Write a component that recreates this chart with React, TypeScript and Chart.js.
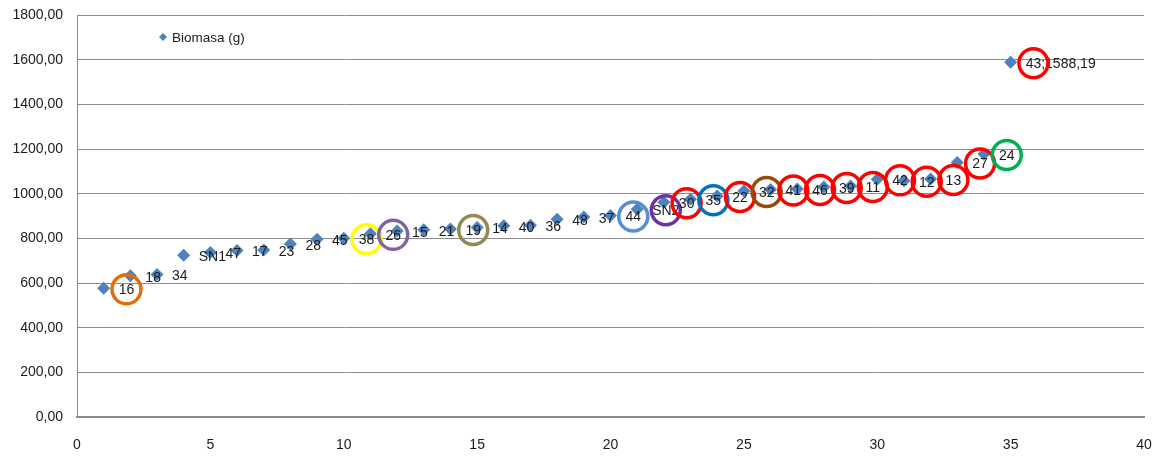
import React, { useEffect, useRef } from 'react';
import { Chart, registerables } from 'chart.js';

Chart.register(...registerables);

// Genotypes ranked by biomass (x = rank, y = biomass in grams)
const rank = [1, 2, 3, 4, 5, 6, 7, 8, 9, 10, 11, 12, 13, 14, 15, 16, 17, 18, 19, 20, 21, 22, 23, 24, 25, 26, 27, 28, 29, 30, 31, 32, 33, 34, 35];
const genotypes = ['16', '18', '34', 'SN1', '47', '17', '23', '28', '45', '38', '26', '15', '21', '19', '14', '40', '36', '48', '37', '44', 'SN2', '30', '35', '22', '32', '41', '46', '39', '11', '42', '12', '13', '27', '24', '43'];
const biomass = [576, 632, 638, 724, 737, 745, 748, 775, 796, 800, 820, 833, 838, 842, 848, 856, 859, 886, 896, 902, 930, 962, 975, 990, 1012, 1019, 1021, 1030, 1034, 1064, 1058, 1066, 1140, 1178, 1588.19];
const seriesName = 'Biomasa (g)';
// Genotypes whose label also carries the value
const valueLabelled = ['43'];

const FONT = '"Liberation Sans", Arial, sans-serif';
const MARKER = '#4F81BD';
const TEXT = '#1a1a1a';
const GRID = '#8c8c8c';

// Highlight rings drawn around selected genotype labels
const ringColors: Record<string, string> = {
  '16': '#E46C0A',
  '38': '#FFFF00',
  '26': '#8064A2',
  '19': '#948A54',
  '44': '#558ED5',
  'SN2': '#7030A0',
  '30': '#FF0000',
  '35': '#0070C0',
  '22': '#FF0000',
  '32': '#984807',
  '41': '#FF0000',
  '46': '#FF0000',
  '39': '#FF0000',
  '11': '#FF0000',
  '42': '#FF0000',
  '12': '#FF0000',
  '13': '#FF0000',
  '27': '#FF0000',
  '24': '#00B050',
  '43': '#FF0000',
};

const fmt = (v: number) => v.toFixed(2).replace('.', ',');

const labelPlugin = {
  id: 'genotypeLabels',
  afterDatasetsDraw(chart: any) {
    const ctx = chart.ctx as CanvasRenderingContext2D;
    const meta = chart.getDatasetMeta(0);
    const area = chart.chartArea;
    ctx.save();
    ctx.font = `14px ${FONT}`;
    ctx.textBaseline = 'middle';
    ctx.textAlign = 'left';
    meta.data.forEach((el: any, i: number) => {
      const name = genotypes[i];
      const text = valueLabelled.includes(name) ? `${name};${fmt(biomass[i])}` : name;
      const lx = el.x + 15;
      const ly = el.y + 2;
      ctx.fillStyle = TEXT;
      ctx.fillText(text, lx, ly);
      const ring = ringColors[name];
      if (ring) {
        const w = ctx.measureText(name).width;
        ctx.beginPath();
        ctx.arc(lx + w / 2, el.y + 1, 14.5, 0, Math.PI * 2);
        ctx.strokeStyle = ring;
        ctx.lineWidth = 3.5;
        ctx.stroke();
      }
    });

    // Legend inside the plot area
    const lxm = area.left + 86;
    const lym = area.top + 22;
    const r = 4;
    ctx.beginPath();
    ctx.moveTo(lxm - r, lym);
    ctx.lineTo(lxm, lym - r);
    ctx.lineTo(lxm + r, lym);
    ctx.lineTo(lxm, lym + r);
    ctx.closePath();
    ctx.fillStyle = MARKER;
    ctx.fill();
    ctx.font = `13.5px ${FONT}`;
    ctx.fillStyle = TEXT;
    ctx.fillText(seriesName, lxm + 9, lym + 1);
    ctx.restore();
  },
};

export default function App() {
  const canvasRef = useRef<HTMLCanvasElement | null>(null);

  useEffect(() => {
    if (!canvasRef.current) return;
    const chart = new Chart(canvasRef.current, {
      type: 'scatter',
      data: {
        datasets: [
          {
            label: seriesName,
            data: rank.map((x, i) => ({ x, y: biomass[i] })),
            pointStyle: 'rectRot',
            pointRadius: 6.5,
            pointHoverRadius: 6.5,
            backgroundColor: MARKER,
            borderWidth: 0,
          },
        ],
      },
      options: {
        responsive: false,
        animation: false,
        layout: { padding: { top: 15, right: 22, left: 0, bottom: 0 } },
        plugins: {
          legend: { display: false },
          tooltip: { enabled: false },
        },
        scales: {
          x: {
            type: 'linear',
            min: 0,
            max: 40,
            afterFit: (s: any) => {
              s.height = 39;
              s.paddingLeft = 0;
              s.paddingRight = 0;
            },
            ticks: {
              stepSize: 5,
              padding: 20,
              color: TEXT,
              font: { family: FONT, size: 14 },
              maxRotation: 0,
            },
            grid: { display: false, drawTicks: false },
            border: { display: true, color: GRID, width: 2 },
          },
          y: {
            min: 0,
            max: 1800,
            afterFit: (s: any) => {
              s.width = 77;
              s.paddingTop = 0;
              s.paddingBottom = 0;
            },
            ticks: {
              stepSize: 200,
              padding: 14,
              color: TEXT,
              font: { family: FONT, size: 14 },
              callback: (v: any) => fmt(Number(v)),
            },
            grid: { color: GRID, lineWidth: 1, drawTicks: false },
            border: { display: true, color: GRID, width: 1 },
          },
        },
      },
      plugins: [labelPlugin],
    });
    return () => chart.destroy();
  }, []);

  return (
    <div style={{ position: 'absolute', left: 0, top: 0, width: 1166, height: 456, background: '#fff' }}>
      <canvas ref={canvasRef} width={1166} height={456} style={{ display: 'block' }} />
    </div>
  );
}
